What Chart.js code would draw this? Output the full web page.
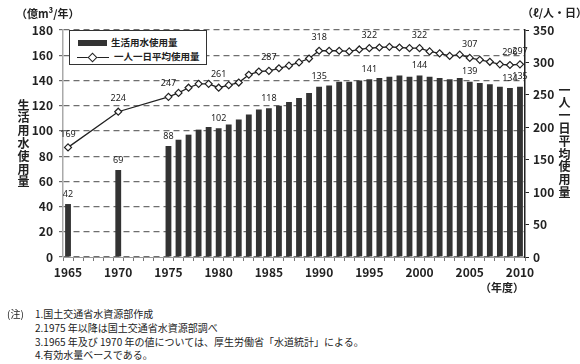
<!DOCTYPE html>
<html lang="ja">
<head>
<meta charset="utf-8">
<script src="https://cdn.jsdelivr.net/npm/chart.js@4.4.1/dist/chart.umd.min.js"></script>
<style>
    body { margin: 0; width: 580px; height: 364px; overflow: hidden; position: relative; background: #fff;
           font-family: "Noto Sans CJK JP", sans-serif; color: #222; }
    #wrap { position: absolute; left: 0; top: 0; width: 580px; height: 300px; }
    .abs { position: absolute; white-space: nowrap; line-height: 1; }
    .unit { font-size: 11px; font-weight: bold; }
    .vtitle { writing-mode: vertical-rl; font-size: 12px; font-weight: bold; letter-spacing: 0.8px; }
    #legend { left: 69px; top: 30px; width: 136px; height: 33px; border: 1.5px solid #333; background: #fff; }
    #legend .row { position: absolute; left: 0; font-size: 9.5px; font-weight: bold; }
    .note { font-size: 10px; }
</style>
</head>
<body>
<div id="wrap"><canvas id="chartWater" width="580" height="300"></canvas></div>

<div class="abs unit" style="left:16px;top:8px;">（億m³/年）</div>
<div class="abs unit" style="left:522px;top:7px;">（ℓ/人・日）</div>
<div class="abs vtitle" style="left:17px;top:99px;">生活用水使用量</div>
<div class="abs vtitle" style="left:558px;top:84px;">一人一日平均使用量</div>
<div class="abs unit" style="left:480px;top:282px;">（年度）</div>

<div id="legend" class="abs">
    <div class="row" style="top:7px;">
        <span class="abs" style="left:8px;top:2px;width:29px;height:6px;background:#333;"></span>
        <span class="abs" style="left:41px;top:0;">生活用水使用量</span>
    </div>
    <div class="row" style="top:21px;">
        <span class="abs" style="left:7px;top:5px;width:32px;height:1.3px;background:#222;"></span>
        <span class="abs" style="left:19px;top:2px;width:5px;height:5px;border:1px solid #222;background:#fff;transform:rotate(45deg);"></span>
        <span class="abs" style="left:44px;top:0;">一人一日平均使用量</span>
    </div>
</div>

<div class="abs note" style="left:7px;top:309px;">(注)</div>
<div class="abs note" style="left:35px;top:309px;">1.国土交通省水資源部作成</div>
<div class="abs note" style="left:35px;top:323px;">2.1975 年以降は国土交通省水資源部調べ</div>
<div class="abs note" style="left:35px;top:337px;">3.1965 年及び 1970 年の値については、厚生労働省「水道統計」による。</div>
<div class="abs note" style="left:35px;top:350px;">4.有効水量ベースである。</div>

<script>
// Années (catégories de l'axe x)
const years = [
    1965, 1966, 1967, 1968, 1969, 1970, 1971, 1972, 1973, 1974,
    1975, 1976, 1977, 1978, 1979, 1980, 1981, 1982, 1983, 1984,
    1985, 1986, 1987, 1988, 1989, 1990, 1991, 1992, 1993, 1994,
    1995, 1996, 1997, 1998, 1999, 2000, 2001, 2002, 2003, 2004,
    2005, 2006, 2007, 2008, 2009, 2010
];

// 生活用水使用量 (億m³/年)
const waterUse = [
    42, null, null, null, null, 69, null, null, null, null,
    88, 93, 97, 101, 103, 102, 105, 109, 113, 117,
    118, 120, 123, 126, 130, 135, 136, 139, 139, 140,
    141, 142, 143, 144, 143, 144, 143, 142, 141, 142,
    139, 138, 137, 135, 134, 135
];

// 一人一日平均使用量 (ℓ/人・日)
const perCapita = [
    169, null, null, null, null, 224, null, null, null, null,
    247, 253, 261, 267, 267, 261, 265, 269, 281, 286,
    287, 291, 295, 300, 306, 318, 318, 318, 317, 320,
    322, 323, 324, 323, 322, 322, 317, 314, 310, 312,
    307, 304, 301, 297, 296, 297
];

// Années affichées sur l'axe x
const tickYears = [1965, 1970, 1975, 1980, 1985, 1990, 1995, 2000, 2005, 2010];

// Années dont la valeur est écrite au-dessus de la marque
const barLabelYears = [1965, 1970, 1975, 1980, 1985, 1990, 1995, 2000, 2005, 2009, 2010];
const lineLabelYears = [1965, 1970, 1975, 1980, 1985, 1990, 1995, 2000, 2005, 2009, 2010];

const tickFont = { family: '"Noto Sans CJK JP", sans-serif', size: 12, weight: 'bold' };

// Plugin: valeurs au-dessus des barres et des points
const valueLabels = {
    id: 'valueLabels',
    afterDraw(chart) {
        const ctx = chart.ctx;
        ctx.save();
        ctx.font = '9px "Noto Sans", sans-serif';
        ctx.fillStyle = '#222';
        ctx.textAlign = 'center';
        ctx.textBaseline = 'middle';
        chart.data.datasets.forEach((ds, di) => {
            const meta = chart.getDatasetMeta(di);
            const wanted = ds.type === 'bar' ? barLabelYears : lineLabelYears;
            const offset = ds.type === 'bar' ? 10 : 13;
            wanted.forEach(y => {
                const i = years.indexOf(y);
                const el = meta.data[i];
                if (!el || ds.data[i] == null) return;
                ctx.fillText(String(ds.data[i]), el.x, el.y - offset);
            });
        });
        ctx.restore();
    }
};

const ctx = document.getElementById('chartWater');
new Chart(ctx, {
    data: {
        labels: years,
        datasets: [{
            type: 'line',
            label: '一人一日平均使用量',
            data: perCapita,
            yAxisID: 'y1',
            spanGaps: true,
            borderColor: '#222',
            borderWidth: 1.3,
            pointStyle: 'rectRot',
            pointRadius: 3.5,
            pointBackgroundColor: '#fff',
            pointBorderColor: '#222',
            pointBorderWidth: 1.2,
            order: 0
        }, {
            type: 'bar',
            label: '生活用水使用量',
            data: waterUse,
            yAxisID: 'y',
            backgroundColor: '#333',
            barPercentage: 0.58,
            categoryPercentage: 1,
            order: 1
        }]
    },
    options: {
        responsive: false,
        animation: false,
        layout: { padding: { top: 30, left: 0, right: 0, bottom: 0 } },
        plugins: {
            legend: { display: false },
            tooltip: { enabled: false }
        },
        scales: {
            x: {
                grid: { display: true, drawOnChartArea: false, tickLength: 4, color: '#777' },
                border: { color: '#999', width: 1 },
                ticks: {
                    autoSkip: false,
                    maxRotation: 0,
                    padding: 4,
                    color: '#222',
                    font: tickFont,
                    callback: function (value) {
                        const y = this.getLabelForValue(value);
                        return tickYears.includes(Number(y)) ? String(y) : '';
                    }
                },
                afterFit: scale => { scale.height = 43; }
            },
            y: {
                position: 'left',
                min: 0,
                max: 180,
                z: 1,
                ticks: { stepSize: 20, padding: 6, color: '#222', font: tickFont },
                grid: { color: '#6e6e6e', lineWidth: 1.2, tickLength: 4 },
                border: { color: '#aaa', width: 1.5, dash: [6, 4] },
                afterFit: scale => { scale.width = 63; }
            },
            y1: {
                position: 'right',
                min: 0,
                max: 350,
                ticks: { stepSize: 50, padding: 4, color: '#222', font: tickFont },
                grid: { drawOnChartArea: false, tickLength: 4, color: '#222' },
                border: { color: '#222', width: 1.5 },
                afterFit: scale => { scale.width = 55; }
            }
        }
    },
    plugins: [valueLabels]
});
</script>
</body>
</html>
